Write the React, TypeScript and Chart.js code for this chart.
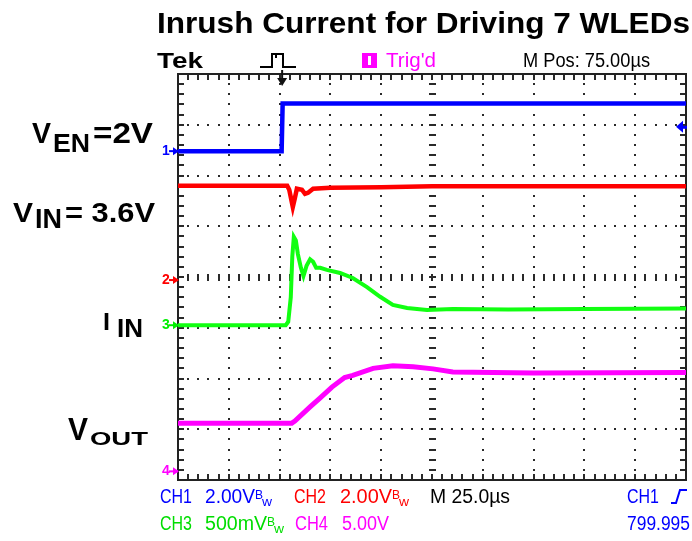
import React, { useEffect, useRef } from "react";
import { Chart, registerables } from "chart.js";

Chart.register(...registerables);

// Horizontal: screen divisions (25 µs / div), 0..10
// Vertical: screen divisions from bottom of graticule, 0..8
const vEnTime = [0, 1.0, 2.04, 2.06, 4.0, 10];
const vEnLevel = [6.48, 6.48, 6.48, 7.42, 7.42, 7.42];

const vInTime = [0, 2.15, 2.19, 2.26, 2.3, 2.34, 2.44, 2.5, 2.56, 2.66, 3.0, 4.0, 5.0, 10];
const vInLevel = [5.8, 5.8, 5.72, 5.38, 5.55, 5.74, 5.72, 5.64, 5.66, 5.74, 5.76, 5.77, 5.79, 5.79];

const iInTime = [0, 2.12, 2.17, 2.22, 2.25, 2.28, 2.32, 2.36, 2.42, 2.47, 2.53, 2.6, 2.66, 2.72, 2.8, 2.93, 3.19, 3.44, 3.72, 3.98, 4.23, 4.51, 4.9, 5.41, 6.5, 8.0, 10];
const iInLevel = [3.05, 3.05, 3.12, 3.6, 4.4, 4.79, 4.72, 4.45, 4.18, 4.02, 4.22, 4.35, 4.3, 4.18, 4.18, 4.14, 4.08, 3.98, 3.8, 3.61, 3.45, 3.39, 3.35, 3.37, 3.36, 3.37, 3.38];

const vOutTime = [0, 2.24, 2.3, 2.6, 2.8, 3.03, 3.28, 3.44, 3.84, 4.23, 4.63, 5.02, 5.41, 7.0, 10];
const vOutLevel = [1.12, 1.12, 1.16, 1.44, 1.62, 1.83, 2.02, 2.06, 2.2, 2.25, 2.23, 2.19, 2.13, 2.11, 2.12];

const channelNames = ["1", "2", "3", "4"];
const channelGround = [6.48, 3.94, 3.05, 0.17];
const channelColors = ["#0000ff", "#ff0000", "#00ee00", "#ff00ff"];
const triggerTime = 2.05;
const triggerLevel = 6.96;

const titleText = "Inrush Current for Driving 7 WLEDs";
const headerTexts = ["Tek", "Trig'd", "M Pos: 75.00µs"];
const readoutRow1 = ["CH1", "2.00V", "CH2", "2.00V", "M 25.0µs", "CH1"];
const readoutRow2 = ["CH3", "500mV", "CH4", "5.00V", "799.995"];
const signalLabels = ["V", "EN", "=2V", "V", "IN", "= 3.6V", "I", "IN", "V", "OUT"];

const FONT = "'Liberation Sans', Arial, sans-serif";

function fit(ctx: CanvasRenderingContext2D, text: string, x: number, y: number, w: number, font: string, color: string) {
  ctx.save();
  ctx.font = font;
  ctx.fillStyle = color;
  ctx.textBaseline = "alphabetic";
  ctx.textAlign = "left";
  const m = ctx.measureText(text).width || 1;
  ctx.translate(x, y);
  ctx.scale(w / m, 1);
  ctx.fillText(text, 0, 0);
  ctx.restore();
}

const graticule = {
  id: "graticule",
  beforeDatasetsDraw(chart: any) {
    const { ctx, chartArea: a, scales } = chart;
    const x = scales.x, y = scales.y;
    ctx.save();
    ctx.fillStyle = "#2a2a2a";
    for (let i = 1; i < 10; i++) {
      if (i === 5) continue;
      const px = Math.round(x.getPixelForValue(i));
      for (let k = 1; k < 40; k++) {
        const py = Math.round(y.getPixelForValue(k * 0.2));
        ctx.fillRect(px - 1, py - 1, 2, 2);
      }
    }
    for (let j = 1; j < 8; j++) {
      if (j === 4) continue;
      const py = Math.round(y.getPixelForValue(j));
      for (let k = 1; k < 50; k++) {
        const px = Math.round(x.getPixelForValue(k * 0.2));
        ctx.fillRect(px - 1, py - 1, 2, 2);
      }
    }
    const cx = Math.round(x.getPixelForValue(5));
    const cy = Math.round(y.getPixelForValue(4));
    for (let k = 1; k < 40; k++) {
      const py = Math.round(y.getPixelForValue(k * 0.2));
      ctx.fillRect(cx - 3, py - 1, 7, 2);
    }
    for (let k = 1; k < 50; k++) {
      const px = Math.round(x.getPixelForValue(k * 0.2));
      ctx.fillRect(px - 1, cy - 3, 2, 7);
    }
    for (let k = 1; k < 50; k++) {
      const px = Math.round(x.getPixelForValue(k * 0.2));
      ctx.fillRect(px - 1, a.top, 2, 6);
      ctx.fillRect(px - 1, a.bottom - 6, 2, 6);
    }
    for (let k = 1; k < 40; k++) {
      const py = Math.round(y.getPixelForValue(k * 0.2));
      ctx.fillRect(a.left, py - 1, 6, 2);
      ctx.fillRect(a.right - 6, py - 1, 6, 2);
    }
    ctx.strokeStyle = "#222222";
    ctx.lineWidth = 2;
    ctx.strokeRect(a.left, a.top, a.right - a.left, a.bottom - a.top);
    ctx.restore();
  },
  afterDatasetsDraw(chart: any) {
    const { ctx, chartArea: a, scales } = chart;
    const x = scales.x, y = scales.y;
    ctx.save();
    channelNames.forEach((n, i) => {
      const py = y.getPixelForValue(channelGround[i]);
      ctx.fillStyle = channelColors[i];
      ctx.strokeStyle = channelColors[i];
      ctx.font = `bold 14px ${FONT}`;
      ctx.textBaseline = "middle";
      ctx.fillText(n, a.left - 16, py);
      ctx.lineWidth = 2;
      ctx.beginPath();
      ctx.moveTo(a.left - 9, py);
      ctx.lineTo(a.left, py);
      ctx.stroke();
      ctx.beginPath();
      ctx.moveTo(a.left - 5, py - 4);
      ctx.lineTo(a.left + 1, py);
      ctx.lineTo(a.left - 5, py + 4);
      ctx.closePath();
      ctx.fill();
    });
    const ty = y.getPixelForValue(triggerLevel);
    ctx.fillStyle = "#0000ff";
    ctx.beginPath();
    ctx.moveTo(a.right - 10, ty);
    ctx.lineTo(a.right - 3, ty - 6);
    ctx.lineTo(a.right - 3, ty + 6);
    ctx.closePath();
    ctx.fill();
    ctx.fillRect(a.right - 4, ty - 1, 5, 3);
    const tx = x.getPixelForValue(triggerTime);
    ctx.fillStyle = "#111111";
    ctx.beginPath();
    ctx.moveTo(tx - 5, a.top + 4);
    ctx.lineTo(tx + 5, a.top + 4);
    ctx.lineTo(tx, a.top + 12);
    ctx.closePath();
    ctx.fill();
    ctx.fillRect(tx - 1, a.top - 4, 2, 8);
    ctx.restore();
  },
  afterDraw(chart: any) {
    const ctx: CanvasRenderingContext2D = chart.ctx;
    fit(ctx, titleText, 157, 33, 533, `bold 30px ${FONT}`, "#000000");
    fit(ctx, headerTexts[0], 157, 68, 46, `bold 22px ${FONT}`, "#000000");
    ctx.save();
    ctx.strokeStyle = "#000000";
    ctx.lineWidth = 2;
    ctx.beginPath();
    ctx.moveTo(260, 67);
    ctx.lineTo(272, 67);
    ctx.lineTo(272, 54);
    ctx.lineTo(283, 54);
    ctx.lineTo(283, 67);
    ctx.lineTo(296, 67);
    ctx.stroke();
    ctx.beginPath();
    ctx.moveTo(276, 54);
    ctx.lineTo(276, 58);
    ctx.stroke();
    ctx.fillStyle = "#ff00ff";
    ctx.fillRect(362, 53, 15, 15);
    ctx.fillStyle = "#ffffff";
    ctx.fillRect(368, 56, 3, 9);
    ctx.restore();
    fit(ctx, headerTexts[1], 386, 67, 50, `20px ${FONT}`, "#ff00ff");
    fit(ctx, headerTexts[2], 523, 67, 127, `20px ${FONT}`, "#000000");

    const f = `20px ${FONT}`;
    const fs = `12px ${FONT}`;
    fit(ctx, readoutRow1[0], 160, 503, 32, f, "#0000ff");
    fit(ctx, readoutRow1[1], 205, 503, 50, f, "#0000ff");
    fit(ctx, "B", 255, 499, 8, fs, "#0000ff");
    fit(ctx, "w", 262, 506, 10, fs, "#0000ff");
    fit(ctx, readoutRow1[2], 294, 503, 32, f, "#ff0000");
    fit(ctx, readoutRow1[3], 340, 503, 52, f, "#ff0000");
    fit(ctx, "B", 392, 499, 8, fs, "#ff0000");
    fit(ctx, "w", 399, 506, 10, fs, "#ff0000");
    fit(ctx, readoutRow1[4], 430, 503, 80, f, "#000000");
    fit(ctx, readoutRow1[5], 627, 503, 32, f, "#0000ff");
    ctx.save();
    ctx.strokeStyle = "#0000ff";
    ctx.lineWidth = 2;
    ctx.beginPath();
    ctx.moveTo(671, 503);
    ctx.lineTo(676, 503);
    ctx.lineTo(680, 490);
    ctx.lineTo(687, 490);
    ctx.stroke();
    ctx.restore();
    fit(ctx, readoutRow2[0], 160, 530, 32, f, "#00dd00");
    fit(ctx, readoutRow2[1], 205, 530, 62, f, "#00dd00");
    fit(ctx, "B", 267, 526, 8, fs, "#00dd00");
    fit(ctx, "w", 274, 533, 10, fs, "#00dd00");
    fit(ctx, readoutRow2[2], 295, 530, 33, f, "#ff00ff");
    fit(ctx, readoutRow2[3], 342, 530, 47, f, "#ff00ff");
    fit(ctx, readoutRow2[4], 627, 530, 63, f, "#0000ff");

    const L = signalLabels;
    fit(ctx, L[0], 32, 143, 19, `bold 29px ${FONT}`, "#000000");
    fit(ctx, L[1], 53, 152, 37, `bold 26px ${FONT}`, "#000000");
    fit(ctx, L[2], 93, 143, 60, `bold 29px ${FONT}`, "#000000");
    fit(ctx, L[3], 13, 222, 20, `bold 28px ${FONT}`, "#000000");
    fit(ctx, L[4], 35, 228, 27, `bold 28px ${FONT}`, "#000000");
    fit(ctx, L[5], 65, 222, 90, `bold 28px ${FONT}`, "#000000");
    fit(ctx, L[6], 103, 330, 7, `bold 24px ${FONT}`, "#000000");
    fit(ctx, L[7], 117, 337, 26, `bold 26px ${FONT}`, "#000000");
    fit(ctx, L[8], 68, 440, 20, `bold 32px ${FONT}`, "#000000");
    fit(ctx, L[9], 90, 445, 58, `bold 18px ${FONT}`, "#000000");
  },
};

function series(t: number[], v: number[]) {
  return t.map((tt, i) => ({ x: tt, y: v[i] }));
}

export default function App() {
  const ref = useRef<HTMLCanvasElement | null>(null);
  useEffect(() => {
    if (!ref.current) return;
    const chart = new Chart(ref.current, {
      type: "line",
      data: {
        datasets: [
          { label: "VEN", data: series(vEnTime, vEnLevel), borderColor: "#0000ff", borderWidth: 4.5 },
          { label: "VIN", data: series(vInTime, vInLevel), borderColor: "#ff0000", borderWidth: 4.5 },
          { label: "IIN", data: series(iInTime, iInLevel), borderColor: "#11ff11", borderWidth: 4 },
          { label: "VOUT", data: series(vOutTime, vOutLevel), borderColor: "#ff00ff", borderWidth: 5 },
        ],
      },
      options: {
        responsive: false,
        animation: false,
        devicePixelRatio: 1,
        layout: { padding: { left: 178, right: 6, top: 74, bottom: 61 } },
        elements: { point: { radius: 0 }, line: { tension: 0, borderCapStyle: "butt" } },
        scales: {
          x: { type: "linear", min: 0, max: 10, display: false },
          y: { type: "linear", min: 0, max: 8, display: false },
        },
        plugins: { legend: { display: false }, tooltip: { enabled: false }, title: { display: false } },
      },
      plugins: [graticule],
    } as any);
    return () => chart.destroy();
  }, []);
  return (
    <div style={{ position: "absolute", left: 0, top: 0, width: 692, height: 541, background: "#ffffff" }}>
      <canvas ref={ref} width={692} height={541} style={{ display: "block" }} />
    </div>
  );
}
